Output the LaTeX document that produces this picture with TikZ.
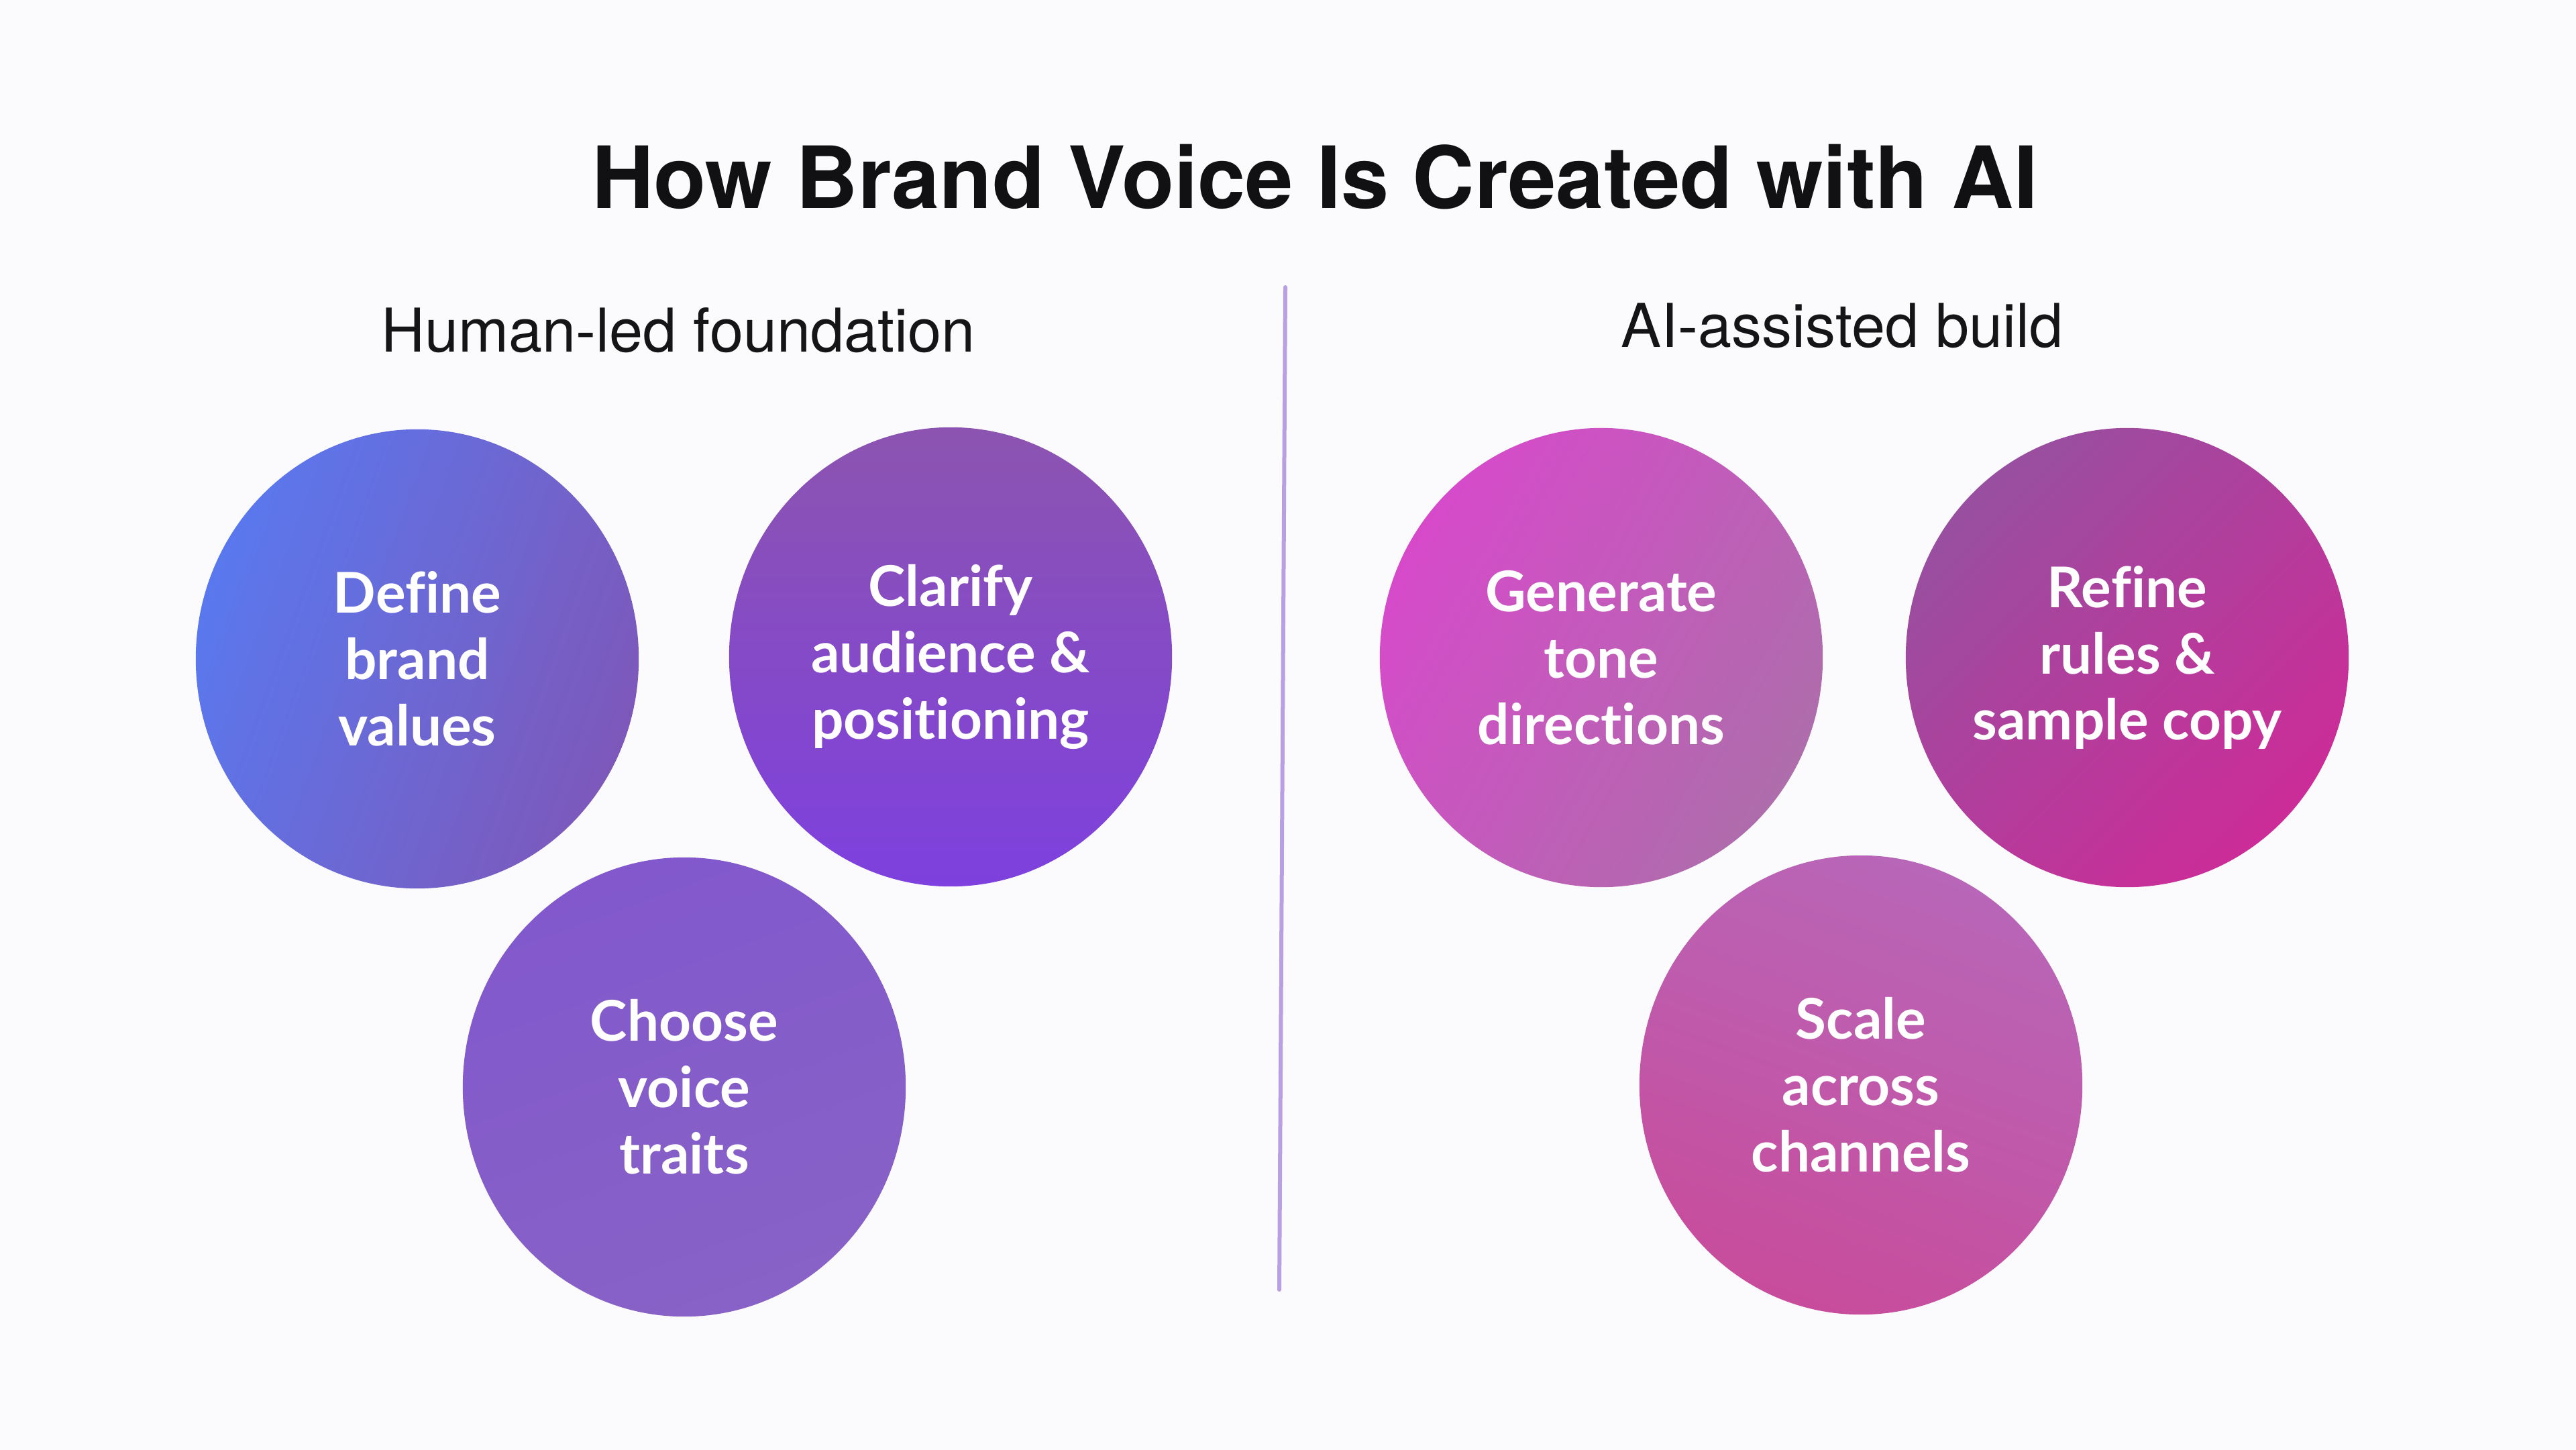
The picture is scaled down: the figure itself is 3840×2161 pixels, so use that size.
\documentclass[tikz,border=0pt]{standalone}
\usepackage{fontspec}
\setmainfont{TeX Gyre Heros}
\newfontfamily\circfont{Lato}[Ligatures=NoCommon]
\usetikzlibrary{shapes.geometric}
\definecolor{bgc}{HTML}{FBFBFD}
\definecolor{titlec}{HTML}{111114}
\definecolor{subc}{HTML}{151518}
\definecolor{divc}{HTML}{B9A0E3}
\definecolor{ca1}{HTML}{5A78EE}
\definecolor{cb1}{HTML}{7D58BA}
\definecolor{ca2}{HTML}{8C54B0}
\definecolor{cb2}{HTML}{7E40DE}
\definecolor{ca3}{HTML}{8258CC}
\definecolor{cb3}{HTML}{8862C6}
\definecolor{ca4}{HTML}{D64ACA}
\definecolor{cb4}{HTML}{AE6DAB}
\definecolor{ca5}{HTML}{984FA0}
\definecolor{cb5}{HTML}{CC2C98}
\definecolor{ca6}{HTML}{B866B8}
\definecolor{cb6}{HTML}{C84C9C}
\tikzset{
  bubble/.style={ellipse, minimum width=6.6cm, minimum height=6.84cm, inner sep=0pt,
    text=white, align=center,
    font=\circfont\bfseries\fontsize{23.8pt}{28.1pt}\selectfont},
  titletext/.style={anchor=base, text=titlec, inner sep=0pt,
    font=\bfseries\fontsize{36.4pt}{40pt}\selectfont},
  subtext/.style={anchor=base, text=subc, inner sep=0pt,
    font=\fontsize{25.6pt}{30pt}\selectfont},
  divider/.style={draw=divc, line width=0.06cm, line cap=round}
}
\begin{document}
\begin{tikzpicture}[x=0.01cm, y=-0.01cm]
\fill[bgc] (0,0) rectangle (3840,2161);
\useasboundingbox (0,0) rectangle (3840,2161);

\node[titletext] (title) at (1960,311) {How Brand Voice Is Created with AI};
\node[subtext] (human) at (1011,524) {Human-led foundation};
\node[subtext] (ai) at (2746,518) {AI-assisted build};

\coordinate (dtop) at (1916,428);
\coordinate (dbot) at (1907,1922);
\draw[divider] (dtop) -- (dbot);

\node[bubble, top color=ca1, bottom color=cb1, shading angle=70] (define) at (622,982) {Def\kern0pt ine\\brand\\values};
\node[bubble, top color=ca2, bottom color=cb2, shading angle=0] (clarify) at (1417,979) {Clarify\\audience \&\\positioning};
\node[bubble, top color=ca3, bottom color=cb3, shading angle=20] (choose) at (1020,1620) {Choose\\voice\\traits};
\node[bubble, top color=ca4, bottom color=cb4, shading angle=60] (generate) at (2387,980) {Generate\\tone\\directions};
\node[bubble, top color=ca5, bottom color=cb5, shading angle=45] (refine) at (3171,980) {Ref\kern0pt ine\\rules \&\\sample copy};
\node[bubble, top color=ca6, bottom color=cb6, shading angle=-20] (scale) at (2774,1617) {Scale\\across\\channels};
\end{tikzpicture}
\end{document}
